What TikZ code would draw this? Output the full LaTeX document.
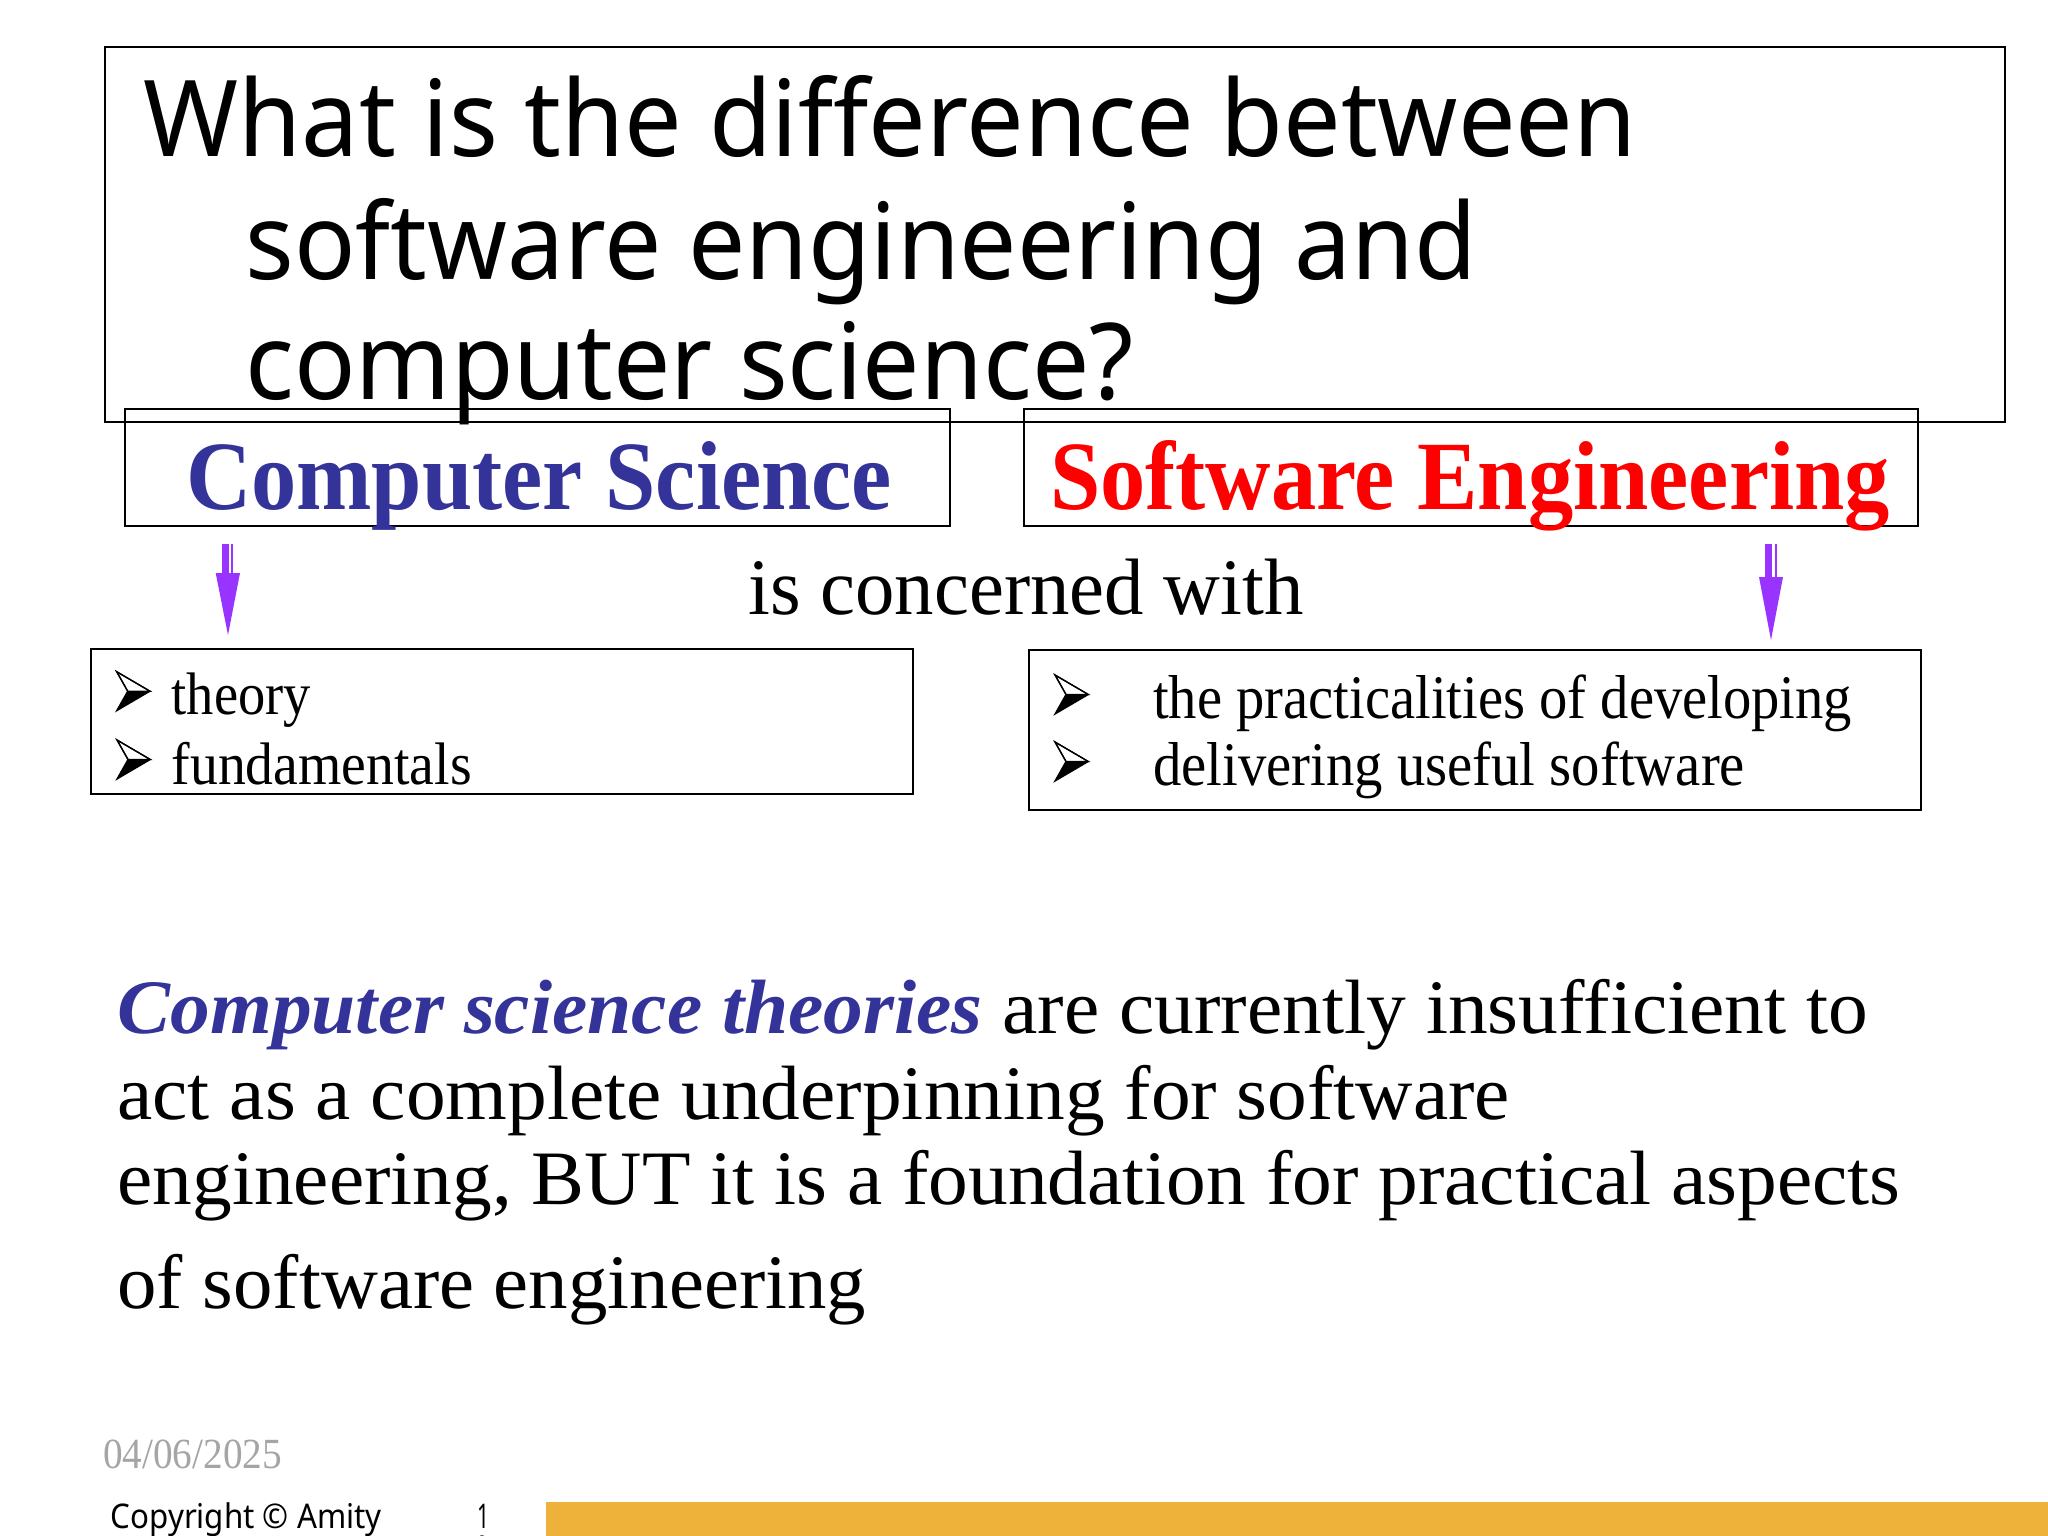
\documentclass[tikz,border=0pt]{standalone}
\usepackage{fontspec}
\usepackage{graphicx}
\setmainfont{Liberation Serif}
\newfontfamily\notosans{Noto Sans}
\definecolor{csblue}{RGB}{51,51,153}
\definecolor{sered}{RGB}{255,0,0}
\definecolor{arrowpurple}{RGB}{153,51,255}
\definecolor{dategray}{RGB}{165,165,165}
\definecolor{barorange}{RGB}{238,178,59}
\newcommand{\fitw}[2]{\resizebox{#1pt}{\height}{#2}}
\newcommand{\fsz}[1]{\fontsize{#1}{#1}\selectfont}
\begin{document}
\begin{tikzpicture}[x=1pt,y=-1pt,
  txt/.style={anchor=base west, inner sep=0pt, outer sep=0pt},
  frame/.style={draw=black, line width=2pt, inner sep=0pt},
  bulletarrow/.pic={
    \fill[black] (11,19.5) -- (33.3,19.5) -- (0,39) -- cycle;
    \draw[black, line width=1.3pt, line join=miter, fill=white] (0,0) -- (33.3,19.5) -- (11,19.5) -- cycle;
    \draw[black, line width=1.3pt, line join=miter] (0,0) -- (33.3,19.5) -- (0,39) -- (11,19.5) -- cycle;
  },
]
\useasboundingbox (0,0) rectangle (2048,1536);
\clip (0,0) rectangle (2048,1536);
\fill[white] (0,0) rectangle (2048,1536);

% title
\node[frame, minimum width=1900.5pt, minimum height=375pt] (titlebox) at (1054.75,234.5) {};
\node[txt] (t1) at (143.7,157) {\notosans\fsz{106}\fitw{1493}{What is the difference between}};
\node[txt] (t2) at (245.5,279) {\notosans\fsz{106}\fitw{1231.6}{software engineering and}};
\node[txt] (t3) at (245.5,399) {\notosans\fsz{106}\fitw{888}{computer science?}};

% heading boxes
\node[frame, minimum width=824.6pt, minimum height=116.5pt] (csbox) at (537.7,467.25) {};
\node[frame, minimum width=894pt, minimum height=117pt] (sebox) at (1471,467.5) {};
\node[txt, text=csblue] (cs) at (186,509) {\bfseries\fsz{98}\fitw{706}{Computer Science}};
\node[txt, text=sered] (se) at (1050,509) {\bfseries\fsz{98}\fitw{840}{Software Engineering}};

\node[txt] (concern) at (748.4,614) {\fsz{80}\fitw{555}{is concerned with}};

% block arrows
\coordinate (la) at (228,544);
\coordinate (ra) at (1771,544);
\fill[arrowpurple] (la) ++(-6.3,0) rectangle ++(7.3,30);
\fill[arrowpurple] (la) ++(3,0) rectangle ++(2,30);
\fill[arrowpurple] (la) ++(-12.3,29) -- ++(24.3,0) -- ++(-12,62) -- cycle;
\fill[arrowpurple] (ra) ++(-6,0) rectangle ++(7,34);
\fill[arrowpurple] (ra) ++(4,0) rectangle ++(2,34);
\fill[arrowpurple] (ra) ++(-12,33) -- ++(24,0) -- ++(-12,63) -- cycle;

% bullet boxes
\node[frame, minimum width=822pt, minimum height=145pt] (lbox) at (502,721.5) {};
\node[frame, minimum width=892pt, minimum height=160pt] (rbox) at (1475,730) {};
\pic at (116.7,671.7) {bulletarrow};
\pic at (117,740) {bulletarrow};
\pic at (1055,675) {bulletarrow};
\pic at (1055,742) {bulletarrow};
\node[txt] (theory) at (171.7,714) {\fsz{60}\fitw{139}{theory}};
\node[txt] (fund) at (171.7,784) {\fsz{60}\fitw{300}{fundamentals}};
\node[txt] (prac) at (1153,718) {\fsz{62}\fitw{699}{the practicalities of developing}};
\node[txt] (deliv) at (1153,785) {\fsz{62}\fitw{592}{delivering useful software}};

% paragraph
\node[txt] (p1) at (117.5,1033) {\fsz{77}\fitw{1750.5}{{\bfseries\itshape\color{csblue}Computer science theories} are currently insufficient to}};
\node[txt] (p2) at (117.5,1119) {\fsz{77}\fitw{1392.5}{act as a complete underpinning for software}};
\node[txt] (p3) at (117.5,1204) {\fsz{77}\fitw{1783}{engineering, BUT it is a foundation for practical aspects}};
\node[txt] (p4) at (117.5,1308) {\fsz{77}\fitw{748.5}{of software engineering}};

% footer
\node[txt, text=dategray] (date) at (103,1468) {\fsz{43}\fitw{179}{04/06/2025}};
\node[txt] (copy) at (110.7,1528) {\notosans\fsz{34}\fitw{271}{Copyright © Amity}};
\node[txt] (pg1) at (477,1528) {\notosans\fsz{34}\fitw{12}{1}};
\node[txt] (pg2) at (475,1560) {\notosans\fsz{34}\fitw{14}{0}};
\fill[barorange] (546,1502) rectangle (2048,1536);
\end{tikzpicture}
\end{document}
